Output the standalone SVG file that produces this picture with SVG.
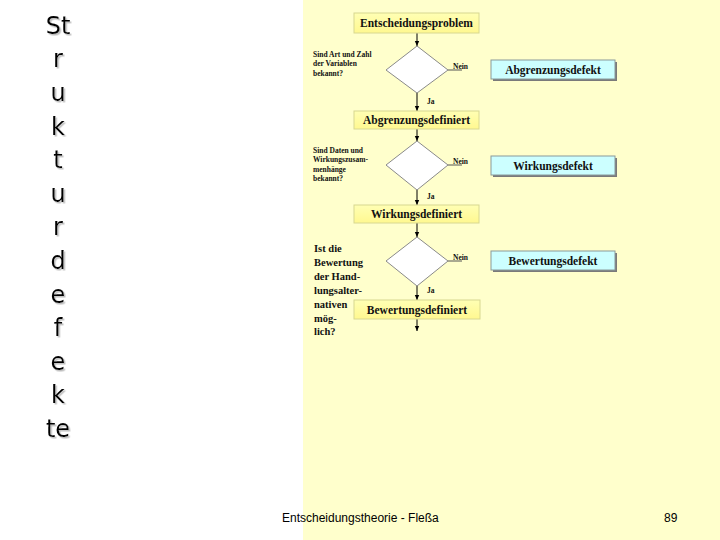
<svg xmlns="http://www.w3.org/2000/svg" width="720" height="540" viewBox="0 0 720 540">
<defs>
<marker id="ah" markerWidth="6" markerHeight="6" refX="5" refY="3" orient="auto" markerUnits="userSpaceOnUse">
<path d="M0,0.8 L5,3 L0,5.2 Z" fill="#000"/>
</marker>
<linearGradient id="yg" x1="0" y1="0" x2="0" y2="1">
<stop offset="0" stop-color="#FFFFB4"/>
<stop offset="1" stop-color="#FFF890"/>
</linearGradient>
<filter id="ts" x="-20%" y="-20%" width="140%" height="140%">
<feDropShadow dx="1.5" dy="1.5" stdDeviation="0" flood-color="#BDBDBD" flood-opacity="1"/>
</filter>
<style>
.title{font-family:"DejaVu Sans",Verdana,sans-serif;font-size:24px;fill:#000;text-anchor:middle}
.ybox{fill:url(#yg);stroke:#D8D890;stroke-width:1}
.cbox{fill:#CCFFFF;stroke:#8A9A9A;stroke-width:1}
.bshadow{fill:#7A7A7A}
.lbl{font-family:"Liberation Serif","Times New Roman",serif;font-weight:bold;font-size:11.5px;fill:#111;text-anchor:middle}
.q{font-family:"Liberation Serif","Times New Roman",serif;font-weight:bold;font-size:7.5px;fill:#111}
.q3{font-family:"Liberation Serif","Times New Roman",serif;font-weight:bold;font-size:10.5px;fill:#111}
.small{font-family:"Liberation Serif","Times New Roman",serif;font-weight:bold;font-size:7.5px;fill:#111}
.dia{fill:#FFFFFF;stroke:#8A8A8A;stroke-width:1}
.arr{stroke:#000;stroke-width:1;fill:none;marker-end:url(#ah)}
.ln{stroke:#555;stroke-width:1;fill:none}
.foot{font-family:"Liberation Sans",Arial,sans-serif;font-size:12px;fill:#000}
</style>
</defs>
<rect x="0" y="0" width="720" height="540" fill="#FFFFFF"/>
<rect x="303" y="0" width="417" height="540" fill="#FFFFCC"/>

<g id="title" class="title" filter="url(#ts)">
<text x="58" y="34">St</text><text x="58" y="67">r</text><text x="58" y="101">u</text><text x="58" y="135">k</text><text x="58" y="168">t</text><text x="58" y="202">u</text><text x="58" y="235">r</text><text x="58" y="269">d</text><text x="58" y="303">e</text><text x="58" y="336">f</text><text x="58" y="370">e</text><text x="58" y="403">k</text><text x="58" y="437">te</text>
</g>

<g id="connectors">
<line class="arr" x1="417" y1="33" x2="417" y2="46"/>
<line class="arr" x1="417" y1="93" x2="417" y2="111"/>
<line class="ln" x1="448" y1="70" x2="462" y2="70"/>
<line class="arr" x1="417" y1="129" x2="417" y2="141"/>
<line class="arr" x1="417" y1="190" x2="417" y2="205"/>
<line class="ln" x1="448" y1="165" x2="462" y2="165"/>
<line class="arr" x1="417" y1="223" x2="417" y2="237"/>
<line class="arr" x1="417" y1="286" x2="417" y2="300"/>
<line class="ln" x1="448" y1="261" x2="462" y2="261"/>
<line class="arr" x1="417" y1="319" x2="417" y2="331"/>
<text class="small" x="453" y="69">Nein</text>
<text class="small" x="427" y="104">Ja</text>
<text class="small" x="453" y="164">Nein</text>
<text class="small" x="427" y="199">Ja</text>
<text class="small" x="453" y="260">Nein</text>
<text class="small" x="427" y="293">Ja</text>
</g>

<g id="n-entscheidungsproblem">
<rect class="ybox" x="354" y="13" width="125" height="20"/>
<text class="lbl" x="416.5" y="27">Entscheidungsproblem</text>
</g>
<g id="q1">
<polygon class="dia" points="417,46 448,70 417,93 386,70"/>
<text class="q" x="313" y="57">Sind Art und Zahl</text>
<text class="q" x="313" y="66">der Variablen</text>
<text class="q" x="313" y="76">bekannt?</text>
</g>
<g id="n-abgrenzungsdefekt">
<rect class="bshadow" x="493" y="62" width="124" height="19"/>
<rect class="cbox" x="491" y="60" width="124" height="19"/>
<text class="lbl" x="553" y="74">Abgrenzungsdefekt</text>
</g>
<g id="n-abgrenzungsdefiniert">
<rect class="ybox" x="354" y="111" width="125" height="18"/>
<text class="lbl" x="416.5" y="124">Abgrenzungsdefiniert</text>
</g>

<g id="q2">
<polygon class="dia" points="417,141 448,165 417,190 386,165"/>
<text class="q" x="313" y="153">Sind Daten und</text>
<text class="q" x="313" y="162">Wirkungszusam-</text>
<text class="q" x="313" y="172">menhänge</text>
<text class="q" x="313" y="181">bekannt?</text>
</g>
<g id="n-wirkungsdefekt">
<rect class="bshadow" x="493" y="158" width="124" height="19"/>
<rect class="cbox" x="491" y="156" width="124" height="19"/>
<text class="lbl" x="553" y="170">Wirkungsdefekt</text>
</g>
<g id="n-wirkungsdefiniert">
<rect class="ybox" x="354" y="205" width="125" height="18"/>
<text class="lbl" x="416.5" y="218">Wirkungsdefiniert</text>
</g>

<g id="q3">
<polygon class="dia" points="417,237 448,261 417,286 386,261"/>
<text class="q3" x="314" y="252">Ist die</text>
<text class="q3" x="314" y="266">Bewertung</text>
<text class="q3" x="314" y="280">der Hand-</text>
<text class="q3" x="314" y="294">lungsalter-</text>
<text class="q3" x="314" y="308">nativen</text>
<text class="q3" x="314" y="322">mög-</text>
<text class="q3" x="314" y="335">lich?</text>
</g>
<g id="n-bewertungsdefekt">
<rect class="bshadow" x="493" y="253" width="124" height="19"/>
<rect class="cbox" x="491" y="251" width="124" height="19"/>
<text class="lbl" x="553" y="265">Bewertungsdefekt</text>
</g>
<g id="n-bewertungsdefiniert">
<rect class="ybox" x="354" y="300" width="126" height="19"/>
<text class="lbl" x="417" y="314">Bewertungsdefiniert</text>
</g>

<g id="footer">
<text class="foot" x="282" y="522">Entscheidungstheorie - Fleßa</text>
<text class="foot" x="664" y="522">89</text>
</g>
</svg>
